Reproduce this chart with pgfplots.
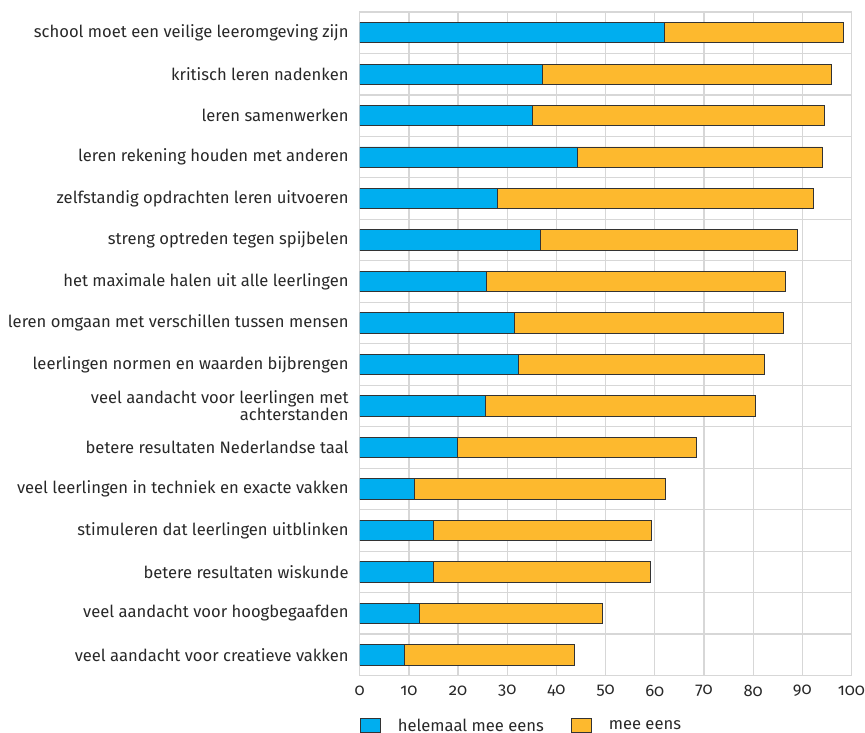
\documentclass[border=0pt]{standalone}
\usepackage{fontspec}
\setmainfont{Fira Sans}[Numbers=OldStyle]
\usepackage{pgfplots}
\pgfplotsset{compat=1.18}
\definecolor{rblue}{RGB}{0,174,239}
\definecolor{rorange}{RGB}{253,185,46}
\definecolor{rgrid}{RGB}{215,215,215}
\definecolor{rtext}{RGB}{40,40,40}

% helemaal mee eens, mee eens (rij 1 = bovenste balk)
\pgfplotstableread{
y  heel  mee
1  62.0  36.3
2  37.1  58.9
3  35.2  59.3
4  44.3  49.8
5  28.0  64.3
6  36.7  52.4
7  25.7  60.9
8  31.4  54.7
9  32.2  50.1
10 25.5  54.9
11 19.8  48.7
12 11.1  51.0
13 15.0  44.4
14 15.0  44.2
15 12.2  37.1
16  9.0  34.6
}\datatable

\newcommand\lblfont{\fontsize{16.6}{15}\selectfont}

\begin{document}
\begin{tikzpicture}
\begin{axis}[
  scale only axis,
  width=492pt, height=664pt,
  xbar stacked, bar width=0.49, bar shift=0pt,
  xmin=0, xmax=100,
  ymin=0.5, ymax=16.5, y dir=reverse,
  xtick={0,10,...,100},
  ytick={1,...,16},
  yticklabels={
    school moet een veilige leeromgeving zijn,
    kritisch leren nadenken,
    leren samenwerken,
    leren rekening houden met anderen,
    zelfstandig opdrachten leren uitvoeren,
    streng optreden tegen spijbelen,
    het maximale halen uit alle leerlingen,
    leren omgaan met verschillen tussen mensen,
    leerlingen normen en waarden bijbrengen,
    {veel aandacht voor leerlingen met\\achterstanden},
    betere resultaten Nederlandse taal,
    veel leerlingen in techniek en exacte vakken,
    stimuleren dat leerlingen uitblinken,
    betere resultaten wiskunde,
    veel aandacht voor hoogbegaafden,
    veel aandacht voor creatieve vakken},
  yticklabel style={align=right, font=\lblfont, text=rtext,
    anchor=east, inner sep=0pt, xshift=-11pt},
  xticklabel style={font=\lblfont, text=rtext,
    anchor=center, inner sep=0pt, yshift=-15pt},
  /pgf/number format/assume math mode=true,
  major tick length=0pt, minor tick length=0pt,
  minor y tick num=1,
  xmajorgrids, yminorgrids,
  grid style={rgrid, line width=1.2pt},
  axis line style={rgrid, line width=1.2pt},
  legend style={at={(0,0)}, anchor=west, yshift=-50pt, draw=none,
    font=\lblfont, text=rtext, inner sep=0pt,
    nodes={inner sep=0pt},
    /tikz/every even column/.append style={column sep=27pt}},
  legend columns=2,
  legend image code/.code={\draw[#1] (0pt,-7pt) rectangle (20pt,7pt);
    \path (37pt,0pt);},
]
\addplot[fill=rblue, draw=black!80, line width=0.9pt] table[x=heel, y=y] {\datatable};
\addlegendentry{helemaal mee eens}
\addplot[fill=rorange, draw=black!80, line width=0.9pt] table[x=mee, y=y] {\datatable};
\addlegendentry{mee eens}
\end{axis}
\path ([yshift=12pt]current axis.north) ([xshift=13pt]current axis.east) ([xshift=-360pt]current axis.west);
\end{tikzpicture}
\end{document}
